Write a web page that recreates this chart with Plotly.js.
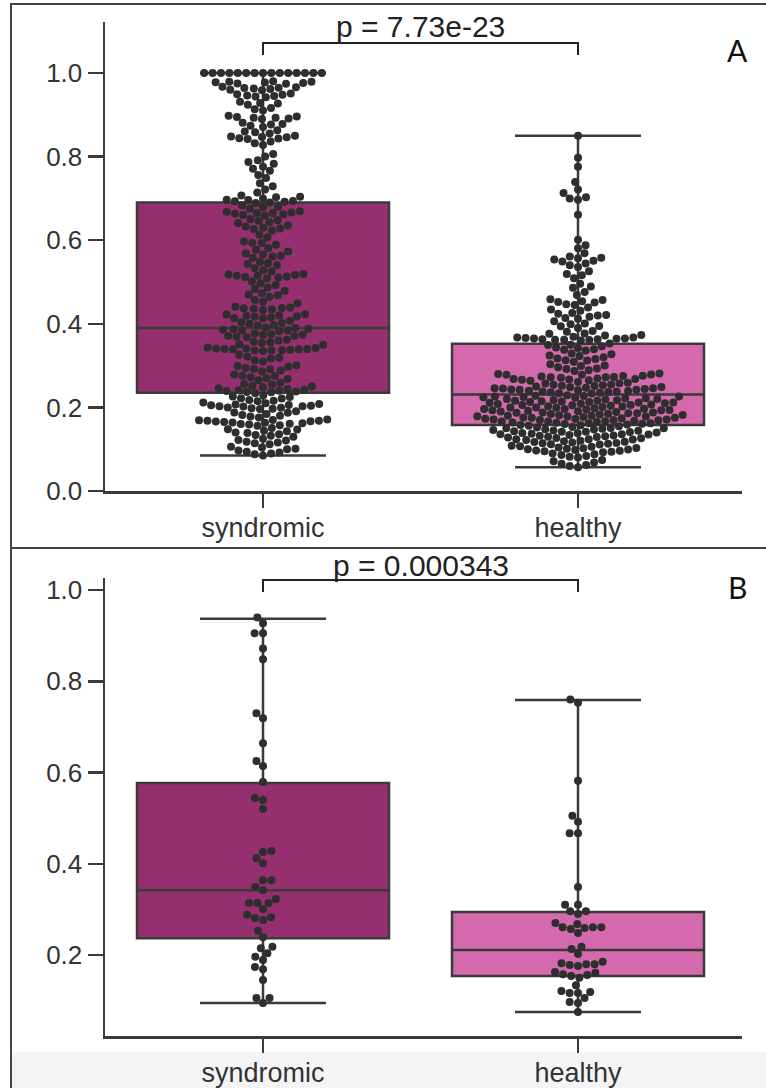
<!DOCTYPE html>
<html><head><meta charset="utf-8">
<script src="https://cdn.plot.ly/plotly-3.0.1.min.js"></script>
<style>html,body{margin:0;padding:0;background:#fff;overflow:hidden}</style>
</head><body><div id="chart" style="width:766px;height:1088px"></div>
<script>
// ---------------- DATA ----------------
const categories = ['syndromic', 'healthy'];
const panelLabels = ['A', 'B'];
const pLabels = ['p = 7.73e-23', 'p = 0.000343'];

// box summaries: [lower whisker, q1, median, q3, upper whisker]
const boxSyndromicA = [0.085, 0.235, 0.390, 0.690, 1.000];
const boxHealthyA   = [0.057, 0.158, 0.231, 0.352, 0.850];
const boxSyndromicB = [0.095, 0.237, 0.342, 0.577, 0.937];
const boxHealthyB   = [0.075, 0.154, 0.211, 0.294, 0.759];

const syndromicA = [
1,1,1,1,1,1,1,1,1,1,1,1,1,1,1,
0.980,0.979,0.979,0.978,0.977,0.976,0.975,0.974,
0.967,0.966,0.965,0.964,0.963,0.962,0.960,0.959,
0.951,0.949,0.948,0.946,0.945,0.944,0.942,
0.931,0.928,0.927,0.924,
0.916,0.913,0.910,
0.898,0.896,0.895,0.893,0.893,0.891,0.890,
0.881,0.878,0.877,0.874,0.871,
0.863,0.860,0.858,0.855,
0.850,0.848,0.847,0.846,0.844,0.843,0.842,
0.836,0.832,0.828,
0.806,0.800,
0.791,0.787,0.783,
0.776,0.771,0.766,
0.756,0.749,
0.736,0.729,
0.721,0.714,
0.707,0.704,0.703,0.700,
0.697,0.696,0.694,0.693,0.692,0.690,0.689,
0.683,0.680,0.679,0.675,
0.669,0.668,0.666,0.665,0.665,0.663,0.662,0.660,0.659,
0.651,0.648,0.646,0.643,0.641,
0.635,0.633,0.630,0.628,0.627,0.623,
0.613,0.607,
0.597,0.594,0.593,0.589,
0.581,0.577,0.573,
0.568,0.566,0.563,0.561,0.558,
0.548,0.545,0.543,0.540,
0.533,0.529,0.525,
0.519,0.518,0.517,0.515,0.515,0.513,0.512,0.511,0.509,
0.501,0.497,0.493,
0.487,0.483,0.479,
0.473,0.470,0.468,0.465,
0.457,0.453,0.449,
0.441,0.439,0.438,0.437,0.436,0.434,0.433,
0.423,0.422,0.420,0.419,0.418,0.417,0.415,0.414,0.413,
0.407,0.404,0.402,0.400,0.397,0.396,
0.391,0.390,0.388,0.387,0.386,0.384,0.384,0.382,
0.377,0.375,0.374,0.373,0.371,0.371,0.369,0.368,
0.362,0.360,0.357,0.356,0.354,0.351,0.350,
0.343,0.342,0.341,0.341,0.340,0.340,0.339,0.339,0.338,0.337,0.337,0.336,0.335,
0.326,0.322,0.319,0.317,0.313,0.310,
0.301,0.299,0.297,0.294,0.292,0.291,0.288,0.286,
0.279,0.276,0.275,0.272,0.270,0.268,0.265,
0.259,0.256,0.255,0.252,0.250,0.249,0.246,0.244,
0.242,0.241,0.240,0.239,0.238,0.237,0.236,0.234,
0.229,0.226,0.225,0.222,0.221,0.218,0.216,0.215,0.212,0.210,
0.208,0.207,0.206,0.205,0.204,0.203,0.203,0.202,0.200,0.199,0.198,0.197,0.196,
0.191,0.188,0.187,0.184,0.182,0.180,0.178,0.176,
0.171,0.170,0.169,0.168,0.168,0.167,0.166,0.165,0.164,0.163,0.162,0.161,0.160,0.159,0.157,0.156,
0.151,0.148,0.147,0.144,0.143,0.140,0.139,0.136,0.134,0.132,0.130,
0.125,0.122,0.121,0.118,0.116,0.114,0.112,
0.106,0.104,0.101,0.100,0.097,
0.094,0.092,0.090,0.088,
0.085
];

const healthyA = [
0.850,0.797,0.776,0.739,0.721,0.713,0.703,0.700,0.697,0.661,0.601,0.588,0.581,0.569,
0.561,0.558,0.557,0.554,0.551,0.549,
0.544,0.540,0.536,
0.526,0.519,0.516,0.509,
0.496,0.489,0.486,
0.476,0.469,
0.459,0.457,0.454,0.452,0.451,0.447,0.445,
0.439,0.434,0.431,
0.426,0.424,0.421,0.420,0.417,0.414,0.412,
0.406,0.401,0.399,0.395,0.394,0.390,
0.383,0.381,0.377,0.376,0.373,0.372,0.369,
0.367,0.367,0.366,0.365,0.365,0.364,0.363,0.363,0.362,0.362,0.361,0.360,
0.353,0.350,0.349,0.346,0.343,0.342,0.339,0.338,0.336,
0.329,0.327,0.324,0.323,0.320,0.317,0.316,0.313,0.312,0.309,
0.303,0.300,0.299,0.296,0.293,0.292,0.289,0.287,
0.281,0.280,0.279,0.278,0.278,0.276,0.275,0.274,0.273,0.272,0.272,0.271,0.269,0.268,0.268,0.267,0.266,0.265,0.264,
0.261,0.259,0.258,0.257,0.255,0.254,0.253,0.252,0.251,0.250,0.249,0.248,0.247,0.246,0.246,0.245,0.244,0.243,0.242,0.242,0.241,0.240,0.239,0.238,0.238,0.237,0.236,0.235,0.234,0.233,
0.229,0.228,0.227,0.226,0.226,0.225,0.224,0.223,0.222,0.221,0.220,0.220,0.219,0.218,0.217,0.216,0.216,0.215,0.214,0.213,0.213,0.212,0.212,0.211,0.210,
0.209,0.208,0.207,0.206,0.206,0.205,0.204,0.203,0.202,0.201,0.200,0.200,0.199,0.198,0.197,0.196,0.196,0.195,0.194,0.193,0.193,0.192,0.191,0.190,0.189,0.188,0.188,0.187,0.186,0.186,0.185,0.184,
0.183,0.182,0.181,0.180,0.180,0.179,0.178,0.178,0.177,0.176,0.175,0.175,0.174,0.173,0.172,0.171,0.171,0.170,0.170,0.169,0.168,0.167,0.166,0.166,0.165,0.164,0.163,0.162,0.162,0.161,0.160,0.159,0.158,0.157,0.156,0.155,
0.153,0.152,0.151,0.150,0.150,0.149,0.148,0.147,0.146,0.145,0.144,0.143,0.142,0.142,0.141,0.140,0.139,0.138,0.137,0.136,0.136,0.135,0.134,0.133,0.132,0.131,0.130,0.129,
0.128,0.127,0.126,0.124,0.124,0.123,0.122,0.120,0.119,0.118,0.117,0.116,0.115,0.114,0.113,0.112,0.111,
0.108,0.107,0.106,0.104,0.103,0.102,0.101,0.100,0.099,0.098,0.097,0.096,0.095,0.094,0.093,
0.090,0.088,0.086,0.084,0.082,0.080,
0.074,0.071,0.068,0.065,
0.062,0.060,0.057
];

const syndromicB = [
0.940,0.927,0.905,0.905,0.872,0.848,0.730,0.719,0.664,0.625,0.614,0.579,
0.544,0.540,0.520,0.428,0.426,0.412,0.401,0.364,0.364,0.349,0.342,
0.323,0.314,0.314,0.314,0.301,0.288,0.283,0.281,0.277,0.253,0.239,
0.218,0.215,0.204,0.196,0.189,0.174,0.169,0.145,0.106,0.106,0.095
];

const healthyB = [
0.760,0.753,0.582,0.505,0.492,0.467,0.467,0.349,0.310,0.310,0.296,0.296,0.290,
0.270,0.268,0.261,0.261,0.261,0.259,0.257,0.248,0.218,0.213,0.202,
0.185,0.182,0.180,0.180,0.178,0.176,0.163,0.161,0.158,0.156,0.154,0.150,
0.134,0.121,0.119,0.117,0.117,0.106,0.097,0.095,0.075
];

// ---------------- LAYOUT GEOMETRY ----------------
const W = 766, H = 1088;
const plotLeft = 105, plotRight = 742;
const xRange = [-0.5016, 1.5206];
const panels = [
  {top: 22,  bottom: 491,  yRange: [0, 1.122],       ticks: [0, 0.2, 0.4, 0.6, 0.8, 1.0], bracketY: 43,  bracketDrop: 12, textY: 27,  labelY: 50},
  {top: 578, bottom: 1036, yRange: [0.0225, 1.0263], ticks: [0.2, 0.4, 0.6, 0.8, 1.0],    bracketY: 580, bracketDrop: 12, textY: 565, labelY: 587}
];
const fx = px => px / W;
const fy = py => 1 - py / H;

const SYN_COLOR = '#952f6f';
const HEA_COLOR = '#d46aad';
const LINE = '#3a3a3a';
const DOT = '#2e2e2e';
const DOT_SIZE = 8;

// beeswarm offsets (pixels) computed from the values, seaborn style
function beeswarm(values, pxPerY, diam) {
  const order = values.map((v, i) => i).sort((a, b) => values[a] - values[b]);
  const placed = [];
  const out = new Array(values.length);
  for (const i of order) {
    const y = values[i] * pxPerY;
    const nb = placed.filter(p => Math.abs(p.y - y) < diam);
    const cands = [0];
    for (const p of nb) {
      const dy = y - p.y;
      const dx = Math.sqrt(Math.max(diam * diam - dy * dy, 0)) * 1.05;
      cands.push(p.x - dx, p.x + dx);
    }
    cands.sort((a, b) => Math.abs(a) - Math.abs(b));
    let chosen = cands[cands.length - 1];
    for (const c of cands) {
      let ok = true;
      for (const p of nb) {
        const ddx = c - p.x, ddy = y - p.y;
        if (ddx * ddx + ddy * ddy < diam * diam - 1e-6) { ok = false; break; }
      }
      if (ok) { chosen = c; break; }
    }
    placed.push({x: chosen, y: y});
    out[i] = chosen;
  }
  return out;
}

const pxPerX = (plotRight - plotLeft) / (xRange[1] - xRange[0]);
const traces = [];
const groups = [
  [[syndromicA, boxSyndromicA, SYN_COLOR], [healthyA, boxHealthyA, HEA_COLOR]],
  [[syndromicB, boxSyndromicB, SYN_COLOR], [healthyB, boxHealthyB, HEA_COLOR]]
];

groups.forEach((grp, pi) => {
  const P = panels[pi];
  const xa = pi === 0 ? 'x' : 'x2';
  const ya = pi === 0 ? 'y' : 'y2';
  const pxPerY = (P.bottom - P.top) / (P.yRange[1] - P.yRange[0]);
  grp.forEach(([vals, st, col], ci) => {
    traces.push({
      type: 'box', xaxis: xa, yaxis: ya,
      x: [ci], lowerfence: [st[0]], q1: [st[1]], median: [st[2]], q3: [st[3]], upperfence: [st[4]],
      width: 0.8, whiskerwidth: 0.5, boxpoints: false,
      fillcolor: col, line: {color: LINE, width: 2.5},
      hoverinfo: 'skip', showlegend: false
    });
  });
  grp.forEach(([vals, st, col], ci) => {
    const offs = beeswarm(vals, pxPerY, DOT_SIZE);
    traces.push({
      type: 'scatter', mode: 'markers', xaxis: xa, yaxis: ya,
      x: offs.map(o => ci + o / pxPerX), y: vals,
      marker: {size: DOT_SIZE, color: DOT, line: {width: 0}},
      hoverinfo: 'skip', showlegend: false, cliponaxis: false
    });
  });
});

const FONT = 'Liberation Sans, Arial, sans-serif';
function xAxis(anchor) {
  return {
    domain: [fx(plotLeft), fx(plotRight)], range: xRange, anchor: anchor,
    tickvals: [0, 1], ticktext: categories,
    showline: true, linecolor: LINE, linewidth: 2.5,
    ticks: 'outside', ticklen: 14, tickwidth: 2.5, tickcolor: LINE,
    ticklabelstandoff: -3,
    tickfont: {family: FONT, size: 27, color: '#333'},
    showgrid: false, zeroline: false, fixedrange: true
  };
}
function yAxis(P, anchor) {
  return {
    domain: [fy(P.bottom), fy(P.top)], range: P.yRange, anchor: anchor,
    tickvals: P.ticks, tickformat: '.1f',
    showline: true, linecolor: LINE, linewidth: 2.5,
    ticks: 'outside', ticklen: 15, tickwidth: 2.5, tickcolor: LINE,
    tickfont: {family: FONT, size: 26, color: '#333'},
    showgrid: false, zeroline: false, fixedrange: true
  };
}

const shapes = [];
const annotations = [];
panels.forEach((P, pi) => {
  const xa = pi === 0 ? 'x' : 'x2';
  shapes.push({
    type: 'path', xref: xa, yref: 'paper',
    path: `M 0 ${fy(P.bracketY + P.bracketDrop)} L 0 ${fy(P.bracketY)} L 1 ${fy(P.bracketY)} L 1 ${fy(P.bracketY + P.bracketDrop)}`,
    line: {color: '#222', width: 2}
  });
  annotations.push({
    xref: xa, yref: 'paper', x: 0.5, y: fy(P.textY), xanchor: 'center', yanchor: 'middle',
    text: pLabels[pi], showarrow: false, font: {family: FONT, size: 30, color: '#222'}
  });
  annotations.push({
    xref: 'paper', yref: 'paper', x: fx(737), y: fy(P.labelY), xanchor: 'center', yanchor: 'middle',
    text: panelLabels[pi], showarrow: false, font: {family: 'Lato, Open Sans, sans-serif', size: 30, color: '#111'}
  });
});
// frame lines and bottom strip
shapes.push({type: 'rect', xref: 'paper', yref: 'paper', x0: fx(12), x1: 1, y0: 0, y1: fy(1052), fillcolor: '#f4f4f4', line: {width: 0}, layer: 'below'});
shapes.push({type: 'line', xref: 'paper', yref: 'paper', x0: fx(10), x1: 1, y0: fy(4), y1: fy(4), line: {color: '#444', width: 2}});
shapes.push({type: 'line', xref: 'paper', yref: 'paper', x0: fx(11), x1: fx(11), y0: 0, y1: fy(3), line: {color: '#444', width: 2}});
shapes.push({type: 'line', xref: 'paper', yref: 'paper', x0: fx(10), x1: 1, y0: fy(548), y1: fy(548), line: {color: '#444', width: 2}});

const layout = {
  width: W, height: H, margin: {l: 0, r: 0, t: 0, b: 0},
  paper_bgcolor: '#fff', plot_bgcolor: 'rgba(0,0,0,0)',
  showlegend: false, boxmode: 'overlay',
  xaxis: xAxis('y'), yaxis: yAxis(panels[0], 'x'),
  xaxis2: xAxis('y2'), yaxis2: yAxis(panels[1], 'x2'),
  shapes: shapes, annotations: annotations
};

Plotly.newPlot('chart', traces, layout, {staticPlot: true, displayModeBar: false});
</script>
</body></html>
